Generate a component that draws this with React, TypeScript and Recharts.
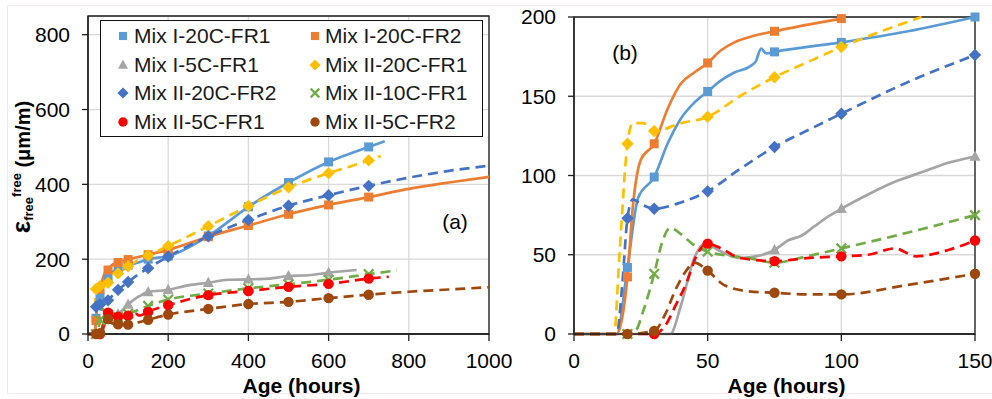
import { LineChart, Line, XAxis, YAxis, CartesianGrid, ReferenceArea, Legend, Label, Customized } from "recharts";

type Pt = [number, number];
type Shape = "square" | "triangle" | "diamond" | "cross" | "circle";

// ---------------------------------------------------------------------------
// Data (age in hours, free strain in µm/m)
// ---------------------------------------------------------------------------

const MARKED_AGES = [20, 30, 50, 75, 100, 150, 200, 300, 400, 500, 600, 700];

const TICKS_A_X = [0, 200, 400, 600, 800, 1000];
const TICKS_A_Y = [0, 200, 400, 600, 800];
const TICKS_B_X = [0, 50, 100, 150];
const TICKS_B_Y = [0, 50, 100, 150, 200];

const MIX_I_20C_FR1: Pt[] = [
  [0, 0], [16, 0], [20, 42], [24, 86], [30, 99], [35, 120], [40, 136], [45, 146],
  [50, 153], [55, 160], [60, 165], [66, 169], [68, 172], [70, 180], [72, 177],
  [75, 178], [100, 184], [125, 191], [150, 200], [200, 208], [300, 262],
  [400, 340], [500, 405], [600, 460], [700, 500], [740, 515],
];

const MIX_I_20C_FR2: Pt[] = [
  [0, 0], [16, 0], [18, 10], [20, 36], [22, 80], [25, 110], [30, 120], [35, 142],
  [40, 158], [45, 165], [50, 171], [55, 179], [60, 184], [67, 188], [75, 191],
  [100, 199], [150, 212], [200, 225], [300, 260], [400, 290], [500, 320],
  [600, 345], [700, 366], [800, 388], [900, 405], [1000, 420],
];

const MIX_I_5C_FR1: Pt[] = [
  [0, 0], [36, 0], [40, 18], [45, 48], [49, 57], [55, 52], [62, 48], [68, 49],
  [75, 53], [80, 59], [85, 62], [90, 68], [95, 74], [100, 79], [110, 88],
  [120, 96], [130, 102], [140, 108], [150, 112], [200, 118], [250, 130],
  [300, 137], [350, 145], [400, 146], [450, 148], [500, 155], [550, 157],
  [600, 164], [670, 171],
];

const MIX_II_20C_FR1: Pt[] = [
  [0, 0], [15, 0], [17, 50], [20, 120], [22, 133], [26, 133], [30, 128],
  [40, 133], [50, 137], [62, 150], [75, 162], [88, 172], [100, 181], [115, 191],
  [130, 200], [150, 210], [200, 235], [300, 288], [400, 342], [500, 392],
  [600, 430], [700, 464], [730, 476],
];

const MIX_II_20C_FR2: Pt[] = [
  [0, 0], [16, 0], [18, 30], [20, 73], [22, 85], [25, 82], [30, 79], [40, 83],
  [50, 90], [62, 104], [75, 118], [88, 129], [100, 139], [125, 159], [150, 176],
  [200, 207], [300, 261], [400, 305], [500, 343], [600, 371], [700, 396],
  [800, 418], [900, 436], [1000, 450],
];

const MIX_II_10C_FR1: Pt[] = [
  [0, 0], [20, 0], [23, 2], [26, 15], [30, 38], [33, 58], [36, 67], [40, 63],
  [45, 56], [50, 52], [60, 49], [65, 48], [75, 45], [87, 49], [100, 54],
  [125, 64], [150, 75], [200, 92], [300, 108], [400, 122], [500, 133],
  [600, 145], [700, 160], [770, 170],
];

const MIX_II_5C_FR1: Pt[] = [
  [0, 0], [30, 0], [34, 5], [38, 18], [42, 32], [46, 50], [50, 57], [55, 54],
  [62, 48], [75, 46], [88, 48], [100, 49], [110, 50], [120, 54], [128, 49],
  [140, 53], [150, 59], [200, 77], [300, 104], [400, 115], [500, 126],
  [600, 134], [700, 148], [750, 153],
];

const MIX_II_5C_FR2: Pt[] = [
  [0, 0], [20, 0], [30, 2], [34, 12], [38, 28], [42, 40], [45, 45], [50, 40],
  [56, 31], [65, 27], [75, 26], [88, 25], [100, 25], [125, 31], [150, 38],
  [200, 52], [300, 67], [400, 80], [500, 86], [600, 96], [700, 105],
  [800, 113], [900, 119], [1000, 125],
];

interface Series {
  name: string;
  color: string;
  dashed: boolean;
  shape: Shape;
  pts: Pt[];
}

const SERIES: Series[] = [
  { name: "Mix I-20C-FR1", color: "#5B9BD5", dashed: false, shape: "square", pts: MIX_I_20C_FR1 },
  { name: "Mix I-20C-FR2", color: "#ED7D31", dashed: false, shape: "square", pts: MIX_I_20C_FR2 },
  { name: "Mix I-5C-FR1", color: "#A5A5A5", dashed: false, shape: "triangle", pts: MIX_I_5C_FR1 },
  { name: "Mix II-20C-FR1", color: "#FFC000", dashed: true, shape: "diamond", pts: MIX_II_20C_FR1 },
  { name: "Mix II-20C-FR2", color: "#4472C4", dashed: true, shape: "diamond", pts: MIX_II_20C_FR2 },
  { name: "Mix II-10C-FR1", color: "#70AD47", dashed: true, shape: "cross", pts: MIX_II_10C_FR1 },
  { name: "Mix II-5C-FR1", color: "#FF0000", dashed: true, shape: "circle", pts: MIX_II_5C_FR1 },
  { name: "Mix II-5C-FR2", color: "#9E480E", dashed: true, shape: "circle", pts: MIX_II_5C_FR2 },
];

const FONT = '"Liberation Sans", Arial, sans-serif';
const AXIS = "#1f1f1f";
const GRID = "#d9d9d9";

// ---------------------------------------------------------------------------
// Markers
// ---------------------------------------------------------------------------

function Marker({ cx, cy, shape, color, s = 10 }: { cx: number; cy: number; shape: Shape; color: string; s?: number }) {
  switch (shape) {
    case "square":
      return <rect x={cx - s * 0.45} y={cy - s * 0.45} width={s * 0.9} height={s * 0.9} fill={color} />;
    case "triangle":
      return (
        <polygon
          points={`${cx},${cy - s * 0.6} ${cx + s * 0.55},${cy + s * 0.42} ${cx - s * 0.55},${cy + s * 0.42}`}
          fill={color}
        />
      );
    case "diamond":
      return (
        <polygon
          points={`${cx},${cy - s * 0.62} ${cx + s * 0.62},${cy} ${cx},${cy + s * 0.62} ${cx - s * 0.62},${cy}`}
          fill={color}
        />
      );
    case "cross": {
      const h = s * 0.48;
      return (
        <path
          d={`M${cx - h},${cy - h}L${cx + h},${cy + h}M${cx + h},${cy - h}L${cx - h},${cy + h}`}
          stroke={color}
          strokeWidth={2.3}
          fill="none"
        />
      );
    }
    default:
      return <circle cx={cx} cy={cy} r={s * 0.52} fill={color} />;
  }
}

const dotFor = (s: Series) => (p: any) => {
  const key = `${s.name}-${p.index}`;
  if (p.cx == null || p.cy == null || !MARKED_AGES.includes(p.payload.t)) return <g key={key} />;
  return (
    <g key={key}>
      <Marker cx={p.cx} cy={p.cy} shape={s.shape} color={s.color} />
    </g>
  );
};

const renderSeries = (maxT: number, maxV: number) =>
  SERIES.map((s) => (
    <Line
      key={s.name}
      data={s.pts.filter(([t, v]) => t <= maxT && v <= maxV).map(([t, v]) => ({ t, v }))}
      dataKey="v"
      type="monotone"
      stroke={s.color}
      strokeWidth={2.7}
      strokeDasharray={s.dashed ? "10 6" : undefined}
      dot={dotFor(s)}
      activeDot={false}
      isAnimationActive={false}
    />
  ));

// ---------------------------------------------------------------------------
// Labels / legend
// ---------------------------------------------------------------------------

const tickStyle = { fontSize: 21, fill: "#000", fontFamily: FONT };

const ageTitle = (dx: number) => (props: any) => {
  const vb = props.viewBox;
  return (
    <text
      x={vb.x + vb.width / 2 + dx}
      y={vb.y + 59}
      textAnchor="middle"
      fontFamily={FONT}
      fontSize={21}
      fontWeight="bold"
      fill="#000"
    >
      Age (hours)
    </text>
  );
};

const strainTitle = (props: any) => {
  const vb = props.viewBox;
  const cy = vb.y + vb.height / 2 - 8;
  return (
    <text
      transform="rotate(-90)"
      x={-cy}
      y={vb.x + 30}
      textAnchor="middle"
      fontFamily={FONT}
      fontWeight="bold"
      fill="#000"
    >
      <tspan fontSize={26}>ε</tspan>
      <tspan fontSize={13} dy={3}>free</tspan>
      <tspan fontSize={13} dy={-12}>free</tspan>
      <tspan fontSize={20} dy={9}> (μm/m)</tspan>
    </text>
  );
};

function PanelTag({ x, y, text }: { x: number; y: number; text: string }) {
  return (
    <text x={x} y={y} textAnchor="middle" fontFamily={FONT} fontSize={21} fill="#000">
      {text}
    </text>
  );
}

function LegendBox() {
  return (
    <div
      style={{
        position: "relative",
        width: 383,
        height: 117,
        boxSizing: "border-box",
        border: "1.5px solid #111",
        background: "#fff",
        fontFamily: FONT,
        fontSize: 21,
        color: "#1a1a1a",
      }}
    >
      {SERIES.map((s, i) => {
        const col = i % 2;
        const row = Math.floor(i / 2);
        return (
          <div
            key={s.name}
            style={{
              position: "absolute",
              left: col === 0 ? 15 : 207,
              top: 3 + row * 28.5,
              height: 24,
              lineHeight: "24px",
              display: "flex",
              alignItems: "center",
              whiteSpace: "nowrap",
            }}
          >
            <svg width={14} height={14} style={{ marginRight: col === 0 ? 4 : 3 }}>
              <Marker cx={7} cy={7} shape={s.shape} color={s.color} s={9} />
            </svg>
            <span>{s.name}</span>
          </div>
        );
      })}
    </div>
  );
}

// ---------------------------------------------------------------------------
// Chart
// ---------------------------------------------------------------------------

export default function App() {
  return (
    <div style={{ position: "absolute", left: 0, top: 0, width: 992, height: 399, background: "#fff" }}>
      <div
        style={{
          position: "absolute",
          left: 7,
          top: 5,
          width: 985,
          height: 387,
          borderTop: "1px solid #f9e6ee",
          borderLeft: "1px solid #f9e6ee",
          borderBottom: "1px solid #f9e6ee",
        }}
      />

      {/* (a) full test duration */}
      <div style={{ position: "absolute", left: 0, top: 0 }}>
        <LineChart width={520} height={399} margin={{ top: 16, right: 31, bottom: 0, left: 0 }}>
          <CartesianGrid stroke={GRID} strokeWidth={1.3} />
          <XAxis
            type="number"
            dataKey="t"
            domain={[0, 1000]}
            ticks={TICKS_A_X}
            interval={0}
            height={65}
            tick={tickStyle}
            tickSize={7}
            tickMargin={12}
            stroke={AXIS}
            strokeWidth={1.3}
          >
            <Label content={ageTitle(13)} />
          </XAxis>
          <YAxis
            type="number"
            domain={[0, 850]}
            ticks={TICKS_A_Y}
            interval={0}
            width={88}
            tick={tickStyle}
            tickSize={6}
            tickMargin={12}
            stroke={AXIS}
            strokeWidth={1.3}
          >
            <Label content={strainTitle} />
          </YAxis>
          <ReferenceArea x1={0} x2={1000} y1={0} y2={850} fill="none" fillOpacity={0} stroke={AXIS} strokeWidth={1.3} />
          {renderSeries(Infinity, Infinity)}
          <Legend
            layout="horizontal"
            verticalAlign="middle"
            align="center"
            wrapperStyle={{ left: 100, top: 20, width: 383, height: 117 }}
            content={() => <LegendBox />}
          />
          <Customized component={<PanelTag x={455} y={229} text="(a)" />} />
        </LineChart>
      </div>

      {/* (b) first 150 hours */}
      <div style={{ position: "absolute", left: 490, top: 0 }}>
        <LineChart width={502} height={399} margin={{ top: 17, right: 17, bottom: 0, left: 0 }}>
          <CartesianGrid stroke={GRID} strokeWidth={1.3} />
          <XAxis
            type="number"
            dataKey="t"
            domain={[0, 150]}
            ticks={TICKS_B_X}
            interval={0}
            height={65}
            tick={tickStyle}
            tickSize={7}
            tickMargin={12}
            stroke={AXIS}
            strokeWidth={1.3}
          >
            <Label content={ageTitle(12)} />
          </XAxis>
          <YAxis
            type="number"
            domain={[0, 200]}
            ticks={TICKS_B_Y}
            interval={0}
            width={84}
            tick={tickStyle}
            tickSize={6}
            tickMargin={12}
            stroke={AXIS}
            strokeWidth={1.3}
          />
          <ReferenceArea x1={0} x2={150} y1={0} y2={200} fill="none" fillOpacity={0} stroke={AXIS} strokeWidth={1.3} />
          {renderSeries(150, 200)}
          <Customized component={<PanelTag x={135} y={60} text="(b)" />} />
        </LineChart>
      </div>
    </div>
  );
}
